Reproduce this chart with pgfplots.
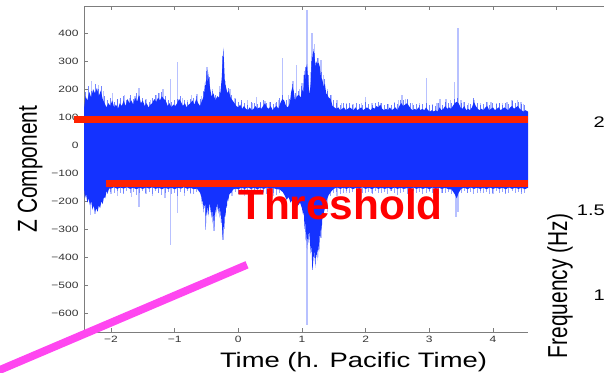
\documentclass[border=0pt]{standalone}
\usepackage{pgfplots}
\pgfplotsset{compat=1.18}
\usepackage{graphicx}
\usepackage{fontspec}
\setmainfont{Liberation Sans}
\newfontfamily\tickfont[FakeStretch=1.31]{Liberation Sans}
\definecolor{sigblue}{RGB}{20,50,255}
\definecolor{thrred}{RGB}{255,34,0}
\definecolor{magline}{RGB}{255,70,240}
\definecolor{framegray}{RGB}{125,125,125}
\begin{document}
\begin{tikzpicture}
\begin{axis}[
  at={(84bp,41bp)}, anchor=south west,
  width=444bp, height=326bp, scale only axis,
  xmin=-2.423, xmax=4.55, ymin=-667, ymax=497,
  clip=false, set layers=standard,
  axis x line*=box, axis y line*=left,
  x axis line style={-}, y axis line style={-},
  axis line style={framegray, line width=0.9bp},
  tick align=inside, xtick pos=both, ytick pos=left,
  major tick length=4bp,
  tick style={framegray, line width=0.8bp},
  xtick={-2,-1,0,1,2,3,4},
  xticklabels={−2,−1,0,1,2,3,4},
  ytick={-600,-500,-400,-300,-200,-100,0,100,200,300,400},
  yticklabels={−600,−500,−400,−300,−200,−100,0,100,200,300,400},
  tick label style={font=\tickfont\fontsize{9.2}{10}\selectfont, text=black!80},
  xticklabel style={yshift=-1bp},
  yticklabel style={xshift=-2bp},
  xlabel={\scalebox{1.31}[1]{\fontsize{21}{21}\selectfont Time (h. Pacific Time)}},
  xlabel style={at={(axis description cs:0.607,-0.1074)}, anchor=base, inner sep=0pt},
  ylabel={\scalebox{1}[1.31]{\fontsize{21}{21}\selectfont Z Component}},
  ylabel style={at={(axis description cs:-0.1059,0.5)}, anchor=base, inner sep=0pt},
]
% light spikes up
\addplot[ycomb, sigblue, opacity=0.3, line width=1.3bp, mark=none] coordinates {
(-2.31,230)(-2.20,215)(-2.12,195)(-1.98,185)(-1.90,165)(-1.79,180)(-1.70,170)(-1.62,175)(-1.56,205)
(-1.45,165)(-1.38,160)(-1.28,180)(-1.24,185)(-1.18,200)(-1.06,237)(-0.96,298)(-0.88,170)(-0.80,160)
(-0.73,178)(-0.65,182)(-0.58,175)(-0.55,190)(-0.49,280)(-0.40,200)(-0.30,210)(-0.20,230)(-0.13,200)
(-0.05,170)(0.05,155)(0.14,162)(0.22,150)(0.29,173)(0.35,152)(0.42,158)(0.50,155)(0.58,150)(0.63,160)
(0.69,312)(0.79,180)(0.86,230)(0.91,287)(0.96,200)(1.00,222)(1.03,250)(1.08,483)(1.13,260)(1.16,401)
(1.20,360)(1.26,310)(1.30,305)(1.34,250)(1.40,200)(1.46,180)(1.55,160)(1.62,150)(1.70,150)(1.80,148)
(1.93,150)(2.00,173)(2.10,150)(2.23,151)(2.35,148)(2.45,155)(2.52,160)(2.57,180)(2.63,165)(2.66,160)
(2.74,150)(2.85,152)(2.96,240)(3.05,148)(3.12,150)(3.17,165)(3.26,165)(3.33,160)(3.40,226)(3.45,419)
(3.50,160)(3.54,155)(3.62,150)(3.70,160)(3.80,150)(3.91,155)(3.97,155)(4.05,150)(4.10,152)(4.15,150)
(4.22,155)(4.30,160)(4.38,162)(4.44,155)(4.48,148)
};
% light spikes down
\addplot[ycomb, sigblue, opacity=0.3, line width=1.3bp, mark=none] coordinates {
(-2.32,-248)(-2.25,-245)(-2.00,-175)(-1.90,-180)(-1.80,-170)(-1.68,-185)(-1.56,-220)(-1.45,-175)
(-1.35,-180)(-1.25,-170)(-1.15,-190)(-1.06,-356)(-0.96,-241)(-0.85,-180)(-0.75,-175)(-0.51,-302)
(-0.38,-307)(-0.24,-338)(-0.10,-180)(0.00,-175)(0.10,-180)(0.25,-175)(0.40,-170)(0.55,-180)
(1.08,-642)(1.17,-445)(1.30,-330)(1.40,-240)(1.55,-180)(1.70,-170)(1.90,-175)(2.10,-170)(2.40,-165)
(2.70,-170)(3.00,-168)(3.20,-170)(3.42,-256)(3.45,-240)(3.60,-172)(3.80,-170)(4.00,-175)(4.20,-170)(4.45,-168)
};
% medium spikes up
\addplot[ycomb, sigblue, opacity=0.6, line width=1bp, mark=none] coordinates {
(-2.40,190)(-2.35,210)(-2.30,195)(-2.25,220)(-2.20,200)(-2.15,210)(-2.10,175)(-2.05,160)(-2.00,170)
(-1.95,155)(-1.90,165)(-1.85,170)(-1.80,175)(-1.75,160)(-1.70,180)(-1.65,165)(-1.60,185)(-1.55,175)
(-1.50,170)(-1.45,160)(-1.40,155)(-1.35,170)(-1.30,180)(-1.25,185)(-1.20,190)(-1.15,175)(-1.10,160)
(-1.05,155)(-1.00,160)(-0.95,165)(-0.90,175)(-0.85,160)(-0.80,155)(-0.75,165)(-0.70,170)(-0.65,175)
(-0.60,165)(-0.55,195)(-0.50,265)(-0.45,245)(-0.40,195)(-0.35,180)(-0.30,190)(-0.25,320)(-0.20,215)
(-0.15,205)(-0.10,180)(-0.05,165)(0.00,155)(0.05,160)(0.10,150)(0.15,145)(0.20,155)(0.25,150)
(0.30,148)(0.35,155)(0.40,160)(0.45,150)(0.50,155)(0.55,148)(0.60,155)(0.65,170)(0.70,180)(0.75,160)
(0.80,165)(0.85,220)(0.90,185)(0.95,195)(1.00,210)(1.05,280)(1.10,250)(1.15,300)(1.20,330)(1.25,310)
(1.30,260)(1.35,235)(1.40,195)(1.45,180)(1.50,160)(1.55,150)(1.60,145)(1.65,150)(1.70,148)(1.75,152)
(1.80,145)(1.85,150)(1.90,148)(1.95,145)(2.00,155)(2.05,148)(2.10,145)(2.15,150)(2.20,155)(2.25,150)
(2.30,145)(2.35,148)(2.40,145)(2.45,150)(2.50,148)(2.55,162)(2.60,160)(2.65,165)(2.70,150)(2.75,145)
(2.80,148)(2.85,145)(2.90,148)(2.95,150)(3.00,142)(3.05,145)(3.10,140)(3.15,150)(3.20,145)(3.25,155)
(3.30,150)(3.35,152)(3.40,165)(3.45,170)(3.50,150)(3.55,155)(3.60,145)(3.65,148)(3.70,170)(3.75,150)
(3.80,145)(3.85,148)(3.90,155)(3.95,145)(4.00,150)(4.05,148)(4.10,150)(4.15,145)(4.20,150)(4.25,148)
(4.30,158)(4.35,150)(4.40,155)(4.45,148)(4.50,142)
};
% medium spikes down
\addplot[ycomb, sigblue, opacity=0.45, line width=1bp, mark=none] coordinates {
(-2.05,-175)(-2.00,-168)(-1.95,-172)(-1.90,-165)(-1.85,-170)(-1.80,-175)(-1.75,-165)(-1.70,-172)
(-1.65,-168)(-1.60,-178)(-1.55,-170)(-1.50,-165)(-1.45,-172)(-1.40,-168)(-1.35,-175)(-1.30,-165)
(-1.25,-170)(-1.20,-178)(-1.15,-172)(-1.10,-168)(-1.05,-175)(-1.00,-170)(-0.95,-180)(-0.90,-168)
(-0.85,-172)(-0.80,-165)(-0.75,-170)(-0.70,-175)(-0.65,-168)(-0.10,-172)(-0.05,-168)(0.00,-175)
(0.05,-165)(0.10,-170)(0.15,-168)(0.20,-175)(0.25,-165)(0.30,-170)(0.35,-172)(0.40,-168)(0.45,-175)
(0.50,-165)(0.55,-170)(0.60,-178)(0.65,-170)(1.45,-180)(1.50,-172)(1.55,-168)(1.60,-175)(1.65,-170)
(1.70,-165)(1.75,-172)(1.80,-168)(1.85,-175)(1.90,-165)(1.95,-170)(2.00,-172)(2.05,-168)(2.10,-175)
(2.15,-165)(2.20,-170)(2.25,-172)(2.30,-168)(2.35,-175)(2.40,-165)(2.45,-170)(2.50,-178)(2.55,-172)
(2.60,-168)(2.65,-175)(2.70,-170)(2.75,-165)(2.80,-172)(2.85,-168)(2.90,-175)(2.95,-170)(3.00,-165)
(3.05,-172)(3.10,-168)(3.15,-175)(3.20,-170)(3.25,-172)(3.30,-168)(3.35,-175)(3.50,-170)(3.55,-165)
(3.60,-172)(3.65,-168)(3.70,-175)(3.75,-170)(3.80,-165)(3.85,-172)(3.90,-168)(3.95,-175)(4.00,-170)
(4.05,-165)(4.10,-172)(4.15,-168)(4.20,-175)(4.25,-170)(4.30,-165)(4.35,-172)(4.40,-168)(4.45,-175)(4.50,-170)
};
% dense signal, upper envelope
\addplot[fill=sigblue, draw=none, mark=none] coordinates {
(-2.423,130)(-2.40,175)(-2.37,160)(-2.34,190)(-2.31,170)(-2.28,200)(-2.25,185)(-2.22,205)(-2.19,175)
(-2.16,195)(-2.13,165)(-2.10,150)(-2.07,135)(-2.04,150)(-2.01,140)(-1.98,160)(-1.95,135)(-1.92,145)
(-1.89,130)(-1.86,150)(-1.83,140)(-1.80,160)(-1.77,140)(-1.74,165)(-1.71,150)(-1.68,160)(-1.65,145)
(-1.62,170)(-1.59,155)(-1.56,180)(-1.53,150)(-1.50,160)(-1.47,140)(-1.44,150)(-1.41,135)(-1.38,145)
(-1.35,150)(-1.32,165)(-1.29,155)(-1.26,170)(-1.23,160)(-1.20,175)(-1.17,165)(-1.14,160)(-1.11,140)
(-1.08,150)(-1.05,135)(-1.02,145)(-0.99,140)(-0.96,150)(-0.93,165)(-0.90,155)(-0.87,140)(-0.84,150)
(-0.81,135)(-0.78,145)(-0.75,150)(-0.72,160)(-0.69,145)(-0.66,165)(-0.63,150)(-0.60,140)(-0.57,160)
(-0.54,175)(-0.52,230)(-0.51,200)(-0.50,250)(-0.49,215)(-0.48,270)(-0.46,230)(-0.44,200)(-0.42,175)
(-0.39,185)(-0.36,160)(-0.33,175)(-0.30,170)(-0.28,190)(-0.26,240)(-0.245,300)(-0.235,348)(-0.225,300)
(-0.21,220)(-0.19,205)(-0.17,185)(-0.15,195)(-0.12,170)(-0.09,160)(-0.06,150)(-0.03,140)(0.00,135)
(0.03,145)(0.06,130)(0.09,140)(0.12,130)(0.15,125)(0.18,135)(0.21,125)(0.24,130)(0.27,140)(0.30,130)
(0.33,135)(0.36,130)(0.39,140)(0.42,150)(0.45,135)(0.48,130)(0.51,140)(0.54,125)(0.57,135)(0.60,140)
(0.63,130)(0.66,150)(0.69,165)(0.72,160)(0.75,140)(0.78,135)(0.81,150)(0.83,190)(0.85,208)(0.87,195)
(0.89,160)(0.92,175)(0.95,180)(0.98,170)(1.00,200)(1.02,190)(1.04,265)(1.05,230)(1.06,270)(1.08,290)
(1.10,220)(1.12,180)(1.14,230)(1.16,330)(1.17,300)(1.18,345)(1.20,310)(1.21,280)(1.22,300)(1.24,290)
(1.26,295)(1.28,280)(1.30,240)(1.32,235)(1.34,210)(1.36,220)(1.38,185)(1.40,180)(1.42,170)(1.45,165)
(1.48,140)(1.51,135)(1.54,130)(1.57,135)(1.60,125)(1.63,130)(1.66,135)(1.69,125)(1.72,130)(1.75,135)
(1.78,130)(1.81,125)(1.84,135)(1.87,125)(1.90,130)(1.93,135)(1.96,125)(1.99,130)(2.02,135)(2.05,130)
(2.08,125)(2.11,135)(2.14,130)(2.17,140)(2.20,135)(2.23,145)(2.26,130)(2.29,125)(2.32,130)(2.35,125)
(2.38,135)(2.41,125)(2.44,130)(2.47,135)(2.50,125)(2.53,140)(2.56,150)(2.59,140)(2.62,145)(2.65,150)
(2.68,140)(2.71,130)(2.74,125)(2.77,130)(2.80,125)(2.83,135)(2.86,125)(2.89,130)(2.92,125)(2.95,135)
(2.98,125)(3.01,120)(3.04,125)(3.07,120)(3.10,125)(3.13,120)(3.16,135)(3.19,125)(3.22,130)(3.25,140)
(3.28,130)(3.31,135)(3.34,130)(3.37,140)(3.40,150)(3.43,155)(3.46,150)(3.49,135)(3.52,130)(3.55,140)
(3.58,125)(3.61,130)(3.64,125)(3.67,135)(3.70,155)(3.73,140)(3.76,130)(3.79,125)(3.82,130)(3.85,125)
(3.88,135)(3.91,140)(3.94,125)(3.97,130)(4.00,135)(4.03,125)(4.06,130)(4.09,135)(4.12,125)(4.15,130)
(4.18,135)(4.21,130)(4.24,125)(4.27,135)(4.30,140)(4.33,130)(4.36,135)(4.39,140)(4.42,130)(4.45,125)
(4.48,120)(4.51,125)(4.55,120)
} \closedcycle;
% dense signal, lower envelope
\addplot[fill=sigblue, draw=none, mark=none] coordinates {
(-2.423,-150)(-2.41,-190)(-2.39,-175)(-2.37,-205)(-2.35,-190)(-2.33,-215)(-2.31,-200)(-2.29,-230)
(-2.27,-215)(-2.25,-240)(-2.23,-225)(-2.21,-238)(-2.19,-215)(-2.17,-225)(-2.15,-200)(-2.13,-210)
(-2.11,-185)(-2.09,-190)(-2.07,-165)(-2.05,-170)(-2.03,-155)(-2.00,-155)(-1.95,-150)(-1.90,-156)
(-1.85,-151)(-1.80,-155)(-1.75,-150)(-1.70,-156)(-1.65,-152)(-1.60,-157)(-1.55,-152)(-1.50,-156)
(-1.45,-151)(-1.40,-155)(-1.35,-150)(-1.30,-156)(-1.25,-152)(-1.20,-157)(-1.15,-152)(-1.10,-156)
(-1.05,-152)(-1.00,-157)(-0.95,-152)(-0.90,-155)(-0.85,-150)(-0.80,-156)(-0.75,-152)(-0.70,-157)
(-0.65,-155)(-0.60,-170)(-0.58,-185)(-0.57,-210)(-0.56,-190)(-0.55,-240)(-0.54,-205)(-0.53,-225)
(-0.52,-200)(-0.51,-300)(-0.50,-230)(-0.49,-250)(-0.48,-210)(-0.47,-255)(-0.46,-220)(-0.45,-205)
(-0.44,-240)(-0.43,-215)(-0.42,-260)(-0.41,-230)(-0.40,-280)(-0.39,-240)(-0.38,-305)(-0.37,-250)
(-0.36,-225)(-0.35,-255)(-0.34,-210)(-0.33,-230)(-0.32,-205)(-0.31,-245)(-0.30,-215)(-0.29,-260)
(-0.28,-225)(-0.27,-285)(-0.26,-250)(-0.25,-315)(-0.24,-337)(-0.23,-280)(-0.22,-300)(-0.21,-240)
(-0.20,-255)(-0.19,-210)(-0.18,-225)(-0.17,-190)(-0.16,-200)(-0.14,-175)(-0.11,-168)(-0.08,-158)
(-0.04,-155)(0.00,-157)(0.05,-152)(0.10,-156)(0.15,-151)(0.20,-156)(0.25,-152)(0.30,-157)(0.35,-152)
(0.40,-156)(0.45,-151)(0.50,-157)(0.55,-153)(0.60,-157)(0.65,-158)(0.70,-168)(0.73,-180)(0.76,-195)
(0.79,-185)(0.82,-205)(0.85,-195)(0.88,-210)(0.91,-200)(0.94,-215)(0.97,-205)(1.00,-225)(1.02,-250)
(1.03,-230)(1.04,-300)(1.05,-270)(1.06,-340)(1.07,-310)(1.08,-372)(1.09,-320)(1.10,-350)(1.11,-300)
(1.12,-330)(1.13,-360)(1.14,-390)(1.15,-350)(1.16,-430)(1.17,-445)(1.18,-380)(1.19,-415)(1.20,-370)
(1.21,-438)(1.22,-385)(1.23,-400)(1.24,-360)(1.25,-412)(1.26,-350)(1.27,-380)(1.28,-320)(1.29,-330)
(1.30,-280)(1.31,-305)(1.32,-260)(1.33,-255)(1.36,-225)(1.39,-195)(1.42,-178)(1.46,-165)(1.50,-156)
(1.55,-151)(1.60,-156)(1.65,-152)(1.70,-156)(1.75,-151)(1.80,-157)(1.85,-152)(1.90,-156)(1.95,-150)
(2.00,-156)(2.05,-152)(2.10,-157)(2.15,-151)(2.20,-156)(2.25,-152)(2.30,-156)(2.35,-152)(2.40,-157)
(2.45,-151)(2.50,-156)(2.55,-152)(2.60,-156)(2.65,-153)(2.70,-157)(2.75,-151)(2.80,-156)(2.85,-152)
(2.90,-156)(2.95,-152)(3.00,-157)(3.05,-151)(3.10,-156)(3.15,-152)(3.20,-156)(3.25,-152)(3.30,-157)
(3.35,-158)(3.40,-175)(3.43,-190)(3.46,-170)(3.50,-156)(3.55,-152)(3.60,-157)(3.65,-151)(3.70,-156)
(3.75,-152)(3.80,-156)(3.85,-152)(3.90,-157)(3.95,-151)(4.00,-156)(4.05,-152)(4.10,-156)(4.15,-152)
(4.20,-157)(4.25,-151)(4.30,-156)(4.35,-152)(4.40,-156)(4.45,-152)(4.50,-157)(4.55,-152)
} \closedcycle;
% threshold lines
\addplot[thrred, line width=7bp, mark=none] coordinates {(-2.58,92) (4.55,92)};
\addplot[thrred, line width=7bp, mark=none] coordinates {(-2.08,-137) (4.55,-137)};
\node[anchor=base west, text=red, font=\bfseries\fontsize{42.5}{42.5}\selectfont, inner sep=0pt]
  at (axis cs:-0.005,-267) {Threshold};
% magenta annotation line
\addplot[magline, line width=7.8bp, mark=none] coordinates {(-4.06,-833) (0.137,-427)};
\end{axis}
% the top frame of the time axis runs on past the crop, with a tick at 5
\draw[framegray, line width=1bp] (527.5bp,366.6bp) -- (606bp,366.6bp);
\draw[framegray, line width=0.9bp] (556.6bp,366.6bp) -- (556.6bp,362.6bp);
\node[rotate=90, anchor=base, inner sep=0pt] at (567bp,87bp)
  {\scalebox{1}[1.31]{\fontsize{21}{21}\selectfont Frequency (Hz)}};
\node[anchor=east, inner sep=0pt] at (605bp,250.5bp) {\tickfont\fontsize{15.4}{16}\selectfont 2};
\node[anchor=east, inner sep=0pt] at (605bp,163bp) {\tickfont\fontsize{15.4}{16}\selectfont 1.5};
\node[anchor=east, inner sep=0pt] at (605bp,78bp) {\tickfont\fontsize{15.4}{16}\selectfont 1};
\pgfresetboundingbox
\useasboundingbox (0,0) rectangle (604bp,373bp);
\end{tikzpicture}
\end{document}
